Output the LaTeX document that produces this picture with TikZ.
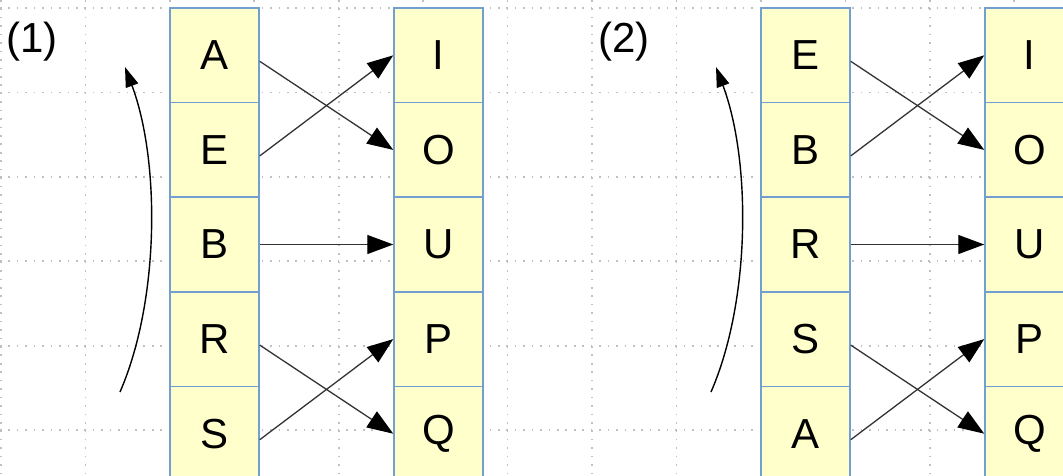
\documentclass[tikz,border=0pt]{standalone}
\usepackage{fontspec}
\setmainfont{Liberation Sans}
\usetikzlibrary{arrows.meta}

\definecolor{boxblue}{HTML}{729FCF}
\definecolor{boxfill}{HTML}{FFFFCC}

\tikzset{
  letterbox/.style={draw=boxblue, fill=boxfill, line width=1.5pt, minimum width=89pt,
    minimum height=94.6pt, inner sep=0pt, font=\fontsize{42}{48}\selectfont},
  swap/.style={draw=black!80, line width=1.3pt, -{Triangle[length=26pt,width=19pt,color=black]}},
  turn/.style={draw=black, line width=1.4pt, -{Triangle[length=20pt,width=13pt]}},
  gridline/.style={gray!50, line width=1.6pt, dash pattern=on 1.6pt off 6.84pt},
  tag/.style={font=\fontsize{42}{48}\selectfont},
}

\begin{document}
\begin{tikzpicture}[x=1pt,y=-1pt]
			\useasboundingbox (0,0) rectangle (1063,475);
			\clip (0,0) rectangle (1063,475);
			% dotted background grid
			\foreach \k in {0,...,12} \draw[gridline] (1+\k*84.43,0) -- (1+\k*84.43,475);
			\foreach \k in {0,...,5} \draw[gridline] (0,8+\k*84.43) -- (1063,8+\k*84.43);
			% group (1)
			\node[tag] (tag1) at (32,42) {(1)};
			\node[letterbox] (a1) at (214.5,55.3) {A};
			\node[letterbox] (e1) at (214.5,149.9) {E};
			\node[letterbox] (b1) at (214.5,244.5) {B};
			\node[letterbox] (r1) at (214.5,339.1) {R};
			\node[letterbox] (s1) at (214.5,433.7) {S};
			\node[letterbox] (i1) at (438.5,55.3) {I};
			\node[letterbox] (o1) at (438.5,149.9) {O};
			\node[letterbox] (u1) at (438.5,244.5) {U};
			\node[letterbox] (p1) at (438.5,339.1) {P};
			\node[letterbox] (q1) at (438.5,433.7) {Q};
			\draw[swap] ([yshift=-6pt]a1.east) -- (o1.west);
			\draw[swap] ([yshift=-6pt]e1.east) -- (i1.west);
			\draw[swap] (b1.east) -- (u1.west);
			\draw[swap] ([yshift=-6pt]r1.east) -- (q1.west);
			\draw[swap] ([yshift=-6pt]s1.east) -- (p1.west);
			\coordinate (low1) at (120,392);
			\coordinate (high1) at (125,67);
			\draw[turn] (low1) .. controls (160,300) and (160,160) .. (high1);
			% group (2)
			\node[tag] (tag2) at (624,42) {(2)};
			\node[letterbox] (e2) at (805.5,55.3) {E};
			\node[letterbox] (b2) at (805.5,149.9) {B};
			\node[letterbox] (r2) at (805.5,244.5) {R};
			\node[letterbox] (s2) at (805.5,339.1) {S};
			\node[letterbox] (a2) at (805.5,433.7) {A};
			\node[letterbox] (i2) at (1029.5,55.3) {I};
			\node[letterbox] (o2) at (1029.5,149.9) {O};
			\node[letterbox] (u2) at (1029.5,244.5) {U};
			\node[letterbox] (p2) at (1029.5,339.1) {P};
			\node[letterbox] (q2) at (1029.5,433.7) {Q};
			\draw[swap] ([yshift=-6pt]e2.east) -- (o2.west);
			\draw[swap] ([yshift=-6pt]b2.east) -- (i2.west);
			\draw[swap] (r2.east) -- (u2.west);
			\draw[swap] ([yshift=-6pt]s2.east) -- (q2.west);
			\draw[swap] ([yshift=-6pt]a2.east) -- (p2.west);
			\coordinate (low2) at (711,392);
			\coordinate (high2) at (716,67);
			\draw[turn] (low2) .. controls (751,300) and (751,160) .. (high2);
		\end{tikzpicture}
\end{document}
